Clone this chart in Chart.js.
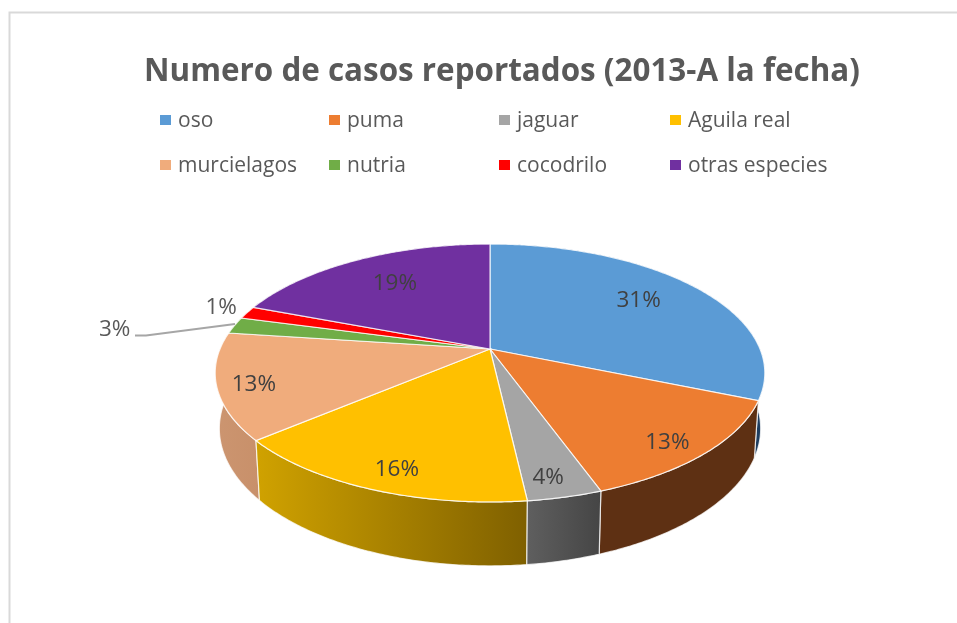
<!DOCTYPE html>
<html><head><meta charset="utf-8">
<style>html,body{margin:0;padding:0;background:#fff}canvas{display:block}</style>
<script src="https://cdn.jsdelivr.net/npm/chart.js@4"></script>
</head><body><canvas id="c" width="957" height="623"></canvas>
<script>
const categories = ['oso','puma','jaguar','Aguila real','murcielagos','nutria','cocodrilo','otras especies'];
const values = [31.3,13.2,3.7,15.6,13.3,2.1,1.6,19.2];
const percentLabels = ['31%','13%','4%','16%','13%','3%','1%','19%'];
const titleText = 'Numero de casos reportados (2013-A la fecha)';

const colors = ['#5B9BD5','#ED7D31','#A5A5A5','#FFC000','#F0AC7C','#70AD47','#FF0000','#7030A0'];
const wallLeft  = ['#1f3e60','#5e3013','#5f5f5f','#d0a200','#cc9570','#44692b','#a00000','#43205f'];
const wallRight = ['#1f3e60','#5e3013','#454545','#7f6000','#c8906a','#44692b','#a00000','#43205f'];
// label placement: radial fraction, then pixel nudge
const labelPlace = [[.72,-2,-2],[.87,-6,5],[.89,-7,0],[.88,10,0],[.87,0,4],[1,-120,4],[1,-26,-5],[.71,3,0]];
const legendCols = [160,329,499,670];
const legendRows = [120,165];

const P = {cx:490, cy:349, a:270, b:124.5, k:0.186, depth:54, stretch:1.065, shrink:0.985};
function proj(ang, f, low){
  const X = Math.cos(ang)*f, Y = Math.sin(ang)*f, d = 1 - P.k*Y;
  const s = low ? P.shrink : 1;
  const dy = P.b*Y/d;
  return [P.cx + s*P.a*X/d, P.cy + (low ? P.depth + P.stretch*dy : dy)];
}
function arcPts(a0,a1,low){
  const n = Math.max(2,Math.ceil((a1-a0)/0.01)), pts=[];
  for(let i=0;i<=n;i++) pts.push(proj(a0+(a1-a0)*i/n,1,low));
  return pts;
}
function trace(ctx,pts){pts.forEach((p,i)=>i?ctx.lineTo(p[0],p[1]):ctx.moveTo(p[0],p[1]));}

const pie3d = {
  id:'pie3d',
  beforeDraw(chart){
    const ctx=chart.ctx; ctx.save();
    ctx.strokeStyle='#d9d9d9'; ctx.lineWidth=2;
    ctx.beginPath(); ctx.moveTo(957,12.5); ctx.lineTo(9.5,12.5); ctx.lineTo(9.5,623); ctx.stroke();
    ctx.restore();
  },
  beforeDatasetsDraw(chart){
    const ctx=chart.ctx, arcs=chart.getDatasetMeta(0).data;
    ctx.save();
    // side walls, back to front
    const order=arcs.map((e,i)=>i).sort((i,j)=>
      Math.sin((arcs[i].startAngle+arcs[i].endAngle)/2)-Math.sin((arcs[j].startAngle+arcs[j].endAngle)/2));
    order.forEach(i=>{
      const e=arcs[i], top=arcPts(e.startAngle,e.endAngle,false), low=arcPts(e.startAngle,e.endAngle,true);
      const xs=top.concat(low).map(p=>p[0]);
      const xa=Math.min(...xs), xb=Math.max(...xs);
      const g=ctx.createLinearGradient(xa,0,xb,0);
      g.addColorStop(0,wallLeft[i]); g.addColorStop(1,wallRight[i]);
      ctx.beginPath(); trace(ctx,top); low.reverse().forEach(p=>ctx.lineTo(p[0],p[1])); ctx.closePath();
      ctx.fillStyle=g; ctx.fill();
      ctx.strokeStyle='rgba(255,255,255,.75)'; ctx.lineWidth=1.2; ctx.stroke();
    });
    // top face
    arcs.forEach((e,i)=>{
      ctx.beginPath(); ctx.moveTo(P.cx,P.cy); arcPts(e.startAngle,e.endAngle,false).forEach(p=>ctx.lineTo(p[0],p[1])); ctx.closePath();
      ctx.fillStyle=colors[i]; ctx.fill();
      ctx.strokeStyle='rgba(255,255,255,.8)'; ctx.lineWidth=1.2; ctx.stroke();
    });
    // leader line
    ctx.strokeStyle='#a6a6a6'; ctx.lineWidth=2;
    ctx.beginPath(); ctx.moveTo(135,335.5); ctx.lineTo(146,335.5); ctx.lineTo(235,324); ctx.stroke();
    // data labels
    ctx.font='22.5px "Open Sans"'; ctx.textAlign='center'; ctx.textBaseline='middle';
    arcs.forEach((e,i)=>{
      const [f,dx,dy]=labelPlace[i], p=proj((e.startAngle+e.endAngle)/2,f,false);
      ctx.fillStyle=f>=1?'#595959':'#404040';
      ctx.fillText(percentLabels[i],p[0]+dx,p[1]+dy);
    });
    // legend
    ctx.textAlign='left'; ctx.font='21px "Open Sans"';
    categories.forEach((n,i)=>{
      const x=legendCols[i%4], y=legendRows[i<4?0:1];
      ctx.fillStyle=colors[i]; ctx.fillRect(x,y-5,11,10);
      ctx.fillStyle='#595959'; ctx.fillText(n,x+18,y+1);
    });
    ctx.restore();
    return false;
  }
};

new Chart(document.getElementById('c'),{
  type:'pie',
  data:{labels:categories,datasets:[{data:values,backgroundColor:colors,borderColor:'#fff'}]},
  plugins:[pie3d],
  options:{
    responsive:false, animation:false,
    layout:{padding:{left:47,top:53}},
    plugins:{
      legend:{display:false}, tooltip:{enabled:false},
      title:{display:true,text:titleText,color:'#595959',font:{family:'"Open Sans"',size:31.4,weight:'bold'},padding:0}
    }
  }
});
</script></body></html>
